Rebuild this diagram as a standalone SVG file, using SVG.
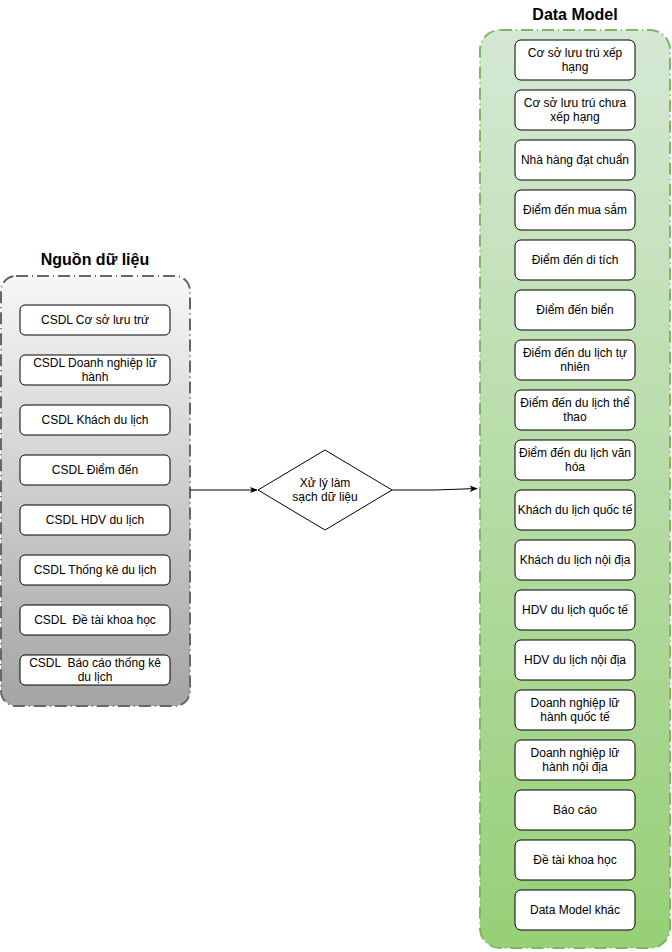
<svg xmlns="http://www.w3.org/2000/svg" width="672" height="952" viewBox="0 0 672 952">
<defs>
<linearGradient id="gGray" x1="0" y1="0" x2="0" y2="1">
<stop offset="0" stop-color="#f7f7f7"/>
<stop offset="1" stop-color="#a4a4a4"/>
</linearGradient>
<linearGradient id="gGreen" x1="0" y1="0" x2="0" y2="1">
<stop offset="0" stop-color="#d5e8d4"/>
<stop offset="1" stop-color="#97d077"/>
</linearGradient>
<marker id="arr" viewBox="0 0 10 10" refX="9" refY="5" markerWidth="8" markerHeight="8" markerUnits="userSpaceOnUse" orient="auto">
<path d="M0,1 L10,5 L0,9 L2.5,5 Z" fill="#000"/>
</marker>
</defs>
<style>
.t{font-family:"Liberation Sans",Arial,sans-serif;font-size:12px;fill:#000;text-anchor:middle;white-space:pre}
.h{font-family:"Liberation Sans",Arial,sans-serif;font-size:16px;font-weight:bold;fill:#000;text-anchor:middle}
.b{fill:#fff;stroke:#000;stroke-width:1}
.cg{fill:url(#gGray);stroke:#666;stroke-width:2;stroke-dasharray:12 4 1 4}
.cn{fill:url(#gGreen);stroke:#82b366;stroke-width:2;stroke-dasharray:12 4 1 4}
.e{fill:none;stroke:#000;stroke-width:1}
</style>
<g id="src-container">
<rect class="cg" x="1" y="276" width="189" height="430" rx="15"/>
<text class="h" x="95" y="265">Nguồn dữ liệu</text>
</g>
<g id="dm-container">
<rect class="cn" x="480" y="30" width="190" height="918" rx="20"/>
<text class="h" x="575" y="20">Data Model</text>
</g>
<g id="s1"><rect class="b" x="20" y="305" width="150" height="30" rx="5"/><text class="t" x="95" y="324">CSDL Cơ sở lưu trứ</text></g>
<g id="s2"><rect class="b" x="20" y="355" width="150" height="30" rx="5"/><text class="t" x="95" y="367">CSDL Doanh nghiệp lữ</text><text class="t" x="95" y="381">hành</text></g>
<g id="s3"><rect class="b" x="20" y="405" width="150" height="30" rx="5"/><text class="t" x="95" y="424">CSDL Khách du lịch</text></g>
<g id="s4"><rect class="b" x="20" y="455" width="150" height="30" rx="5"/><text class="t" x="95" y="474">CSDL Điểm đến</text></g>
<g id="s5"><rect class="b" x="20" y="505" width="150" height="30" rx="5"/><text class="t" x="95" y="524">CSDL HDV du lịch</text></g>
<g id="s6"><rect class="b" x="20" y="555" width="150" height="30" rx="5"/><text class="t" x="95" y="574">CSDL Thống kê du lịch</text></g>
<g id="s7"><rect class="b" x="20" y="605" width="150" height="30" rx="5"/><text class="t" x="95" y="624">CSDL  Đề tài khoa học</text></g>
<g id="s8"><rect class="b" x="20" y="655" width="150" height="30" rx="5"/><text class="t" x="95" y="667">CSDL  Báo cáo thống kê</text><text class="t" x="95" y="681">du lịch</text></g>
<g id="process">
<path d="M325,450 L392,490 L325,530 L258,490 Z" fill="#fff" stroke="#000" stroke-width="1"/>
<text class="t" x="325" y="487">Xử lý làm</text>
<text class="t" x="325" y="501">sạch dữ liệu</text>
</g>
<g id="d1"><rect class="b" x="515" y="40" width="120" height="40" rx="6"/><text class="t" x="575" y="57">Cơ sở lưu trú xếp</text><text class="t" x="575" y="71">hạng</text></g>
<g id="d2"><rect class="b" x="515" y="90" width="120" height="40" rx="6"/><text class="t" x="575" y="107">Cơ sở lưu trú chưa</text><text class="t" x="575" y="121">xếp hạng</text></g>
<g id="d3"><rect class="b" x="515" y="140" width="120" height="40" rx="6"/><text class="t" x="575" y="164">Nhà hàng đạt chuẩn</text></g>
<g id="d4"><rect class="b" x="515" y="190" width="120" height="40" rx="6"/><text class="t" x="575" y="214">Điểm đến mua sắm</text></g>
<g id="d5"><rect class="b" x="515" y="240" width="120" height="40" rx="6"/><text class="t" x="575" y="264">Điểm đến di tích</text></g>
<g id="d6"><rect class="b" x="515" y="290" width="120" height="40" rx="6"/><text class="t" x="575" y="314">Điểm đến biển</text></g>
<g id="d7"><rect class="b" x="515" y="340" width="120" height="40" rx="6"/><text class="t" x="575" y="357">Điểm đến du lịch tự</text><text class="t" x="575" y="371">nhiên</text></g>
<g id="d8"><rect class="b" x="515" y="390" width="120" height="40" rx="6"/><text class="t" x="575" y="407">Điểm đến du lịch thể</text><text class="t" x="575" y="421">thao</text></g>
<g id="d9"><rect class="b" x="515" y="440" width="120" height="40" rx="6"/><text class="t" x="575" y="457">Điểm đến du lịch văn</text><text class="t" x="575" y="471">hóa</text></g>
<g id="d10"><rect class="b" x="515" y="490" width="120" height="40" rx="6"/><text class="t" x="575" y="514">Khách du lịch quốc tế</text></g>
<g id="d11"><rect class="b" x="515" y="540" width="120" height="40" rx="6"/><text class="t" x="575" y="564">Khách du lịch nội địa</text></g>
<g id="d12"><rect class="b" x="515" y="590" width="120" height="40" rx="6"/><text class="t" x="575" y="614">HDV du lịch quốc tế</text></g>
<g id="d13"><rect class="b" x="515" y="640" width="120" height="40" rx="6"/><text class="t" x="575" y="664">HDV du lịch nội địa</text></g>
<g id="d14"><rect class="b" x="515" y="690" width="120" height="40" rx="6"/><text class="t" x="575" y="707">Doanh nghiệp lữ</text><text class="t" x="575" y="721">hành quốc tế</text></g>
<g id="d15"><rect class="b" x="515" y="740" width="120" height="40" rx="6"/><text class="t" x="575" y="757">Doanh nghiệp lữ</text><text class="t" x="575" y="771">hành nội địa</text></g>
<g id="d16"><rect class="b" x="515" y="790" width="120" height="40" rx="6"/><text class="t" x="575" y="814">Báo cáo</text></g>
<g id="d17"><rect class="b" x="515" y="840" width="120" height="40" rx="6"/><text class="t" x="575" y="864">Đề tài khoa học</text></g>
<g id="d18"><rect class="b" x="515" y="890" width="120" height="40" rx="6"/><text class="t" x="575" y="914">Data Model khác</text></g>
<g id="connectors">
<path class="e" d="M190,490 L257,490" marker-end="url(#arr)"/>
<path class="e" d="M392,490 L435,490 L477,488.5" marker-end="url(#arr)"/>
</g>
</svg>
